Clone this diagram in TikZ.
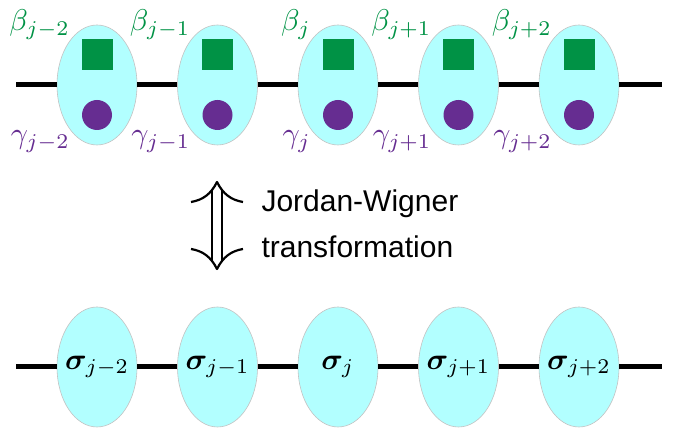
\documentclass[tikz,border=0pt]{standalone}
\usepackage{amsmath,bm}
\usepackage{graphicx}
\usepackage{fontspec}
\newfontfamily\jwfont{Liberation Sans}
\usetikzlibrary{arrows.meta,positioning,calc,shapes.geometric}
\definecolor{sitecyan}{RGB}{178,255,255}
\definecolor{siteedge}{RGB}{195,195,195}
\definecolor{majgreen}{RGB}{0,146,69}
\definecolor{majpurple}{RGB}{102,45,145}
\newcommand{\bigmath}[1]{\scalebox{3}{$#1$}}

\begin{document}
\begin{tikzpicture}[x=1pt,y=1pt,
  site/.style={ellipse,draw=siteedge,fill=sitecyan,line width=0.6pt,
    minimum width=80pt,minimum height=120pt,inner sep=0pt},
  betasq/.style={rectangle,fill=majgreen,minimum size=31pt,inner sep=0pt},
  gammadot/.style={circle,fill=majpurple,minimum size=30pt,inner sep=0pt},
  chainline/.style={line width=5pt},
  jwline/.style={line width=2.2pt}]
  \useasboundingbox (0,0) rectangle (678,430);
  % Majorana sites (top) and spin sites (bottom)
  \foreach \i/\s [evaluate=\i as \x using 97+120.5*(\i-1)] in
      {1/j-2,2/j-1,3/j,4/j+1,5/j+2} {
    \node[site] (t\i) at (\x,345) {};
    \node[betasq] (sq\i) at ($(t\i.center)+(0,30)$) {};
    \node[gammadot] (dot\i) at ($(t\i.center)+(0,-30)$) {};
    \node[anchor=base east,text=majgreen,inner sep=0pt] (beta\i) at ($(t\i.center)+(-27,54)$) {\bigmath{\beta_{\s}}};
    \node[anchor=base east,text=majpurple,inner sep=0pt] (gamma\i) at ($(t\i.center)+(-27,-59)$) {\bigmath{\gamma_{\s}}};
    \node[site] (s\i) at (\x,63) {\makebox[0pt]{\bigmath{\boldsymbol{\sigma}_{\s}}}};
  }
  \coordinate (tl) at (16,345); \coordinate (tr) at (662,345);
  \coordinate (bl) at (16,63);  \coordinate (br) at (662,63);
  \foreach \a/\b in {tl/t1,t1/t2,t2/t3,t3/t4,t4/t5,t5/tr,bl/s1,s1/s2,s2/s3,s3/s4,s4/s5,s5/br}
    \draw[chainline] (\a) -- (\b);
  % mapping
  \coordinate (jwtop) at (217,248);
  \coordinate (jwbot) at (217,161);
  \draw[jwline,double distance=8.5pt] ($(jwtop)+(0,-8)$) -- ($(jwbot)+(0,8)$);
  \foreach \tip/\d in {jwtop/1,jwbot/-1}
    \draw[jwline,line join=round]
      ($(\tip)+(-26,-20*\d)$) .. controls ($(\tip)+(-14,-18*\d)$) and ($(\tip)+(-6,-12*\d)$) .. (\tip)
      .. controls ($(\tip)+(6,-12*\d)$) and ($(\tip)+(14,-18*\d)$) .. ($(\tip)+(26,-20*\d)$);
  \node[anchor=base west,font=\jwfont\fontsize{30}{36}\selectfont] (jw1) at (258,218) {Jordan-Wigner};
  \node[anchor=base west,font=\jwfont\fontsize{30}{36}\selectfont] (jw2) at (258,172) {transformation};
\end{tikzpicture}
\end{document}
